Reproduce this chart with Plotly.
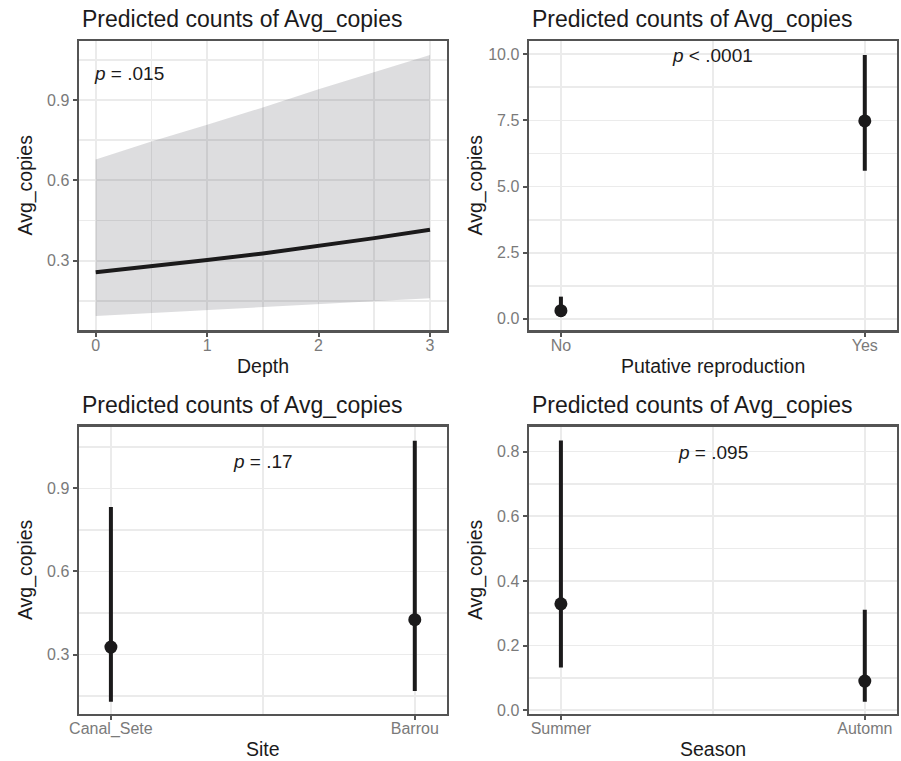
import plotly.graph_objects as go

# ---------------- data ----------------
title_text = "Predicted counts of Avg_copies"
y_label = "Avg_copies"

# Panel 1: Depth (continuous)
depth = [0, 0.5, 1, 1.5, 2, 2.5, 3]
depth_pred = [0.257, 0.279, 0.302, 0.327, 0.355, 0.384, 0.415]
depth_low = [0.093, 0.104, 0.115, 0.126, 0.137, 0.148, 0.160]
depth_high = [0.678, 0.745, 0.807, 0.872, 0.940, 1.003, 1.068]
depth_p = "<i>p</i> = .015"

# Panel 2: Putative reproduction
repro_cats = ["No", "Yes"]
repro_pred = [0.31, 7.48]
repro_low = [0.07, 5.60]
repro_high = [0.84, 9.97]
repro_p = "<i>p</i> < .0001"

# Panel 3: Site
site_cats = ["Canal_Sete", "Barrou"]
site_pred = [0.327, 0.426]
site_low = [0.129, 0.168]
site_high = [0.833, 1.072]
site_p = "<i>p</i> = .17"

# Panel 4: Season
season_cats = ["Summer", "Automn"]
season_pred = [0.329, 0.090]
season_low = [0.132, 0.026]
season_high = [0.834, 0.311]
season_p = "<i>p</i> = .095"

# ---------------- style ----------------
W, H = 901, 761
FONT = "Liberation Sans, Arial, Helvetica, sans-serif"
INK = "#1b1a1b"
BORDER = "#545454"
GRID = "#ebebeb"
TICKC = "#7a7a7a"

def px_x(p):
    return p / W

def px_y(p):
    return 1 - p / H

panels = {
    1: dict(x=(79, 446.7), y=(41, 330)),
    2: dict(x=(529, 896.7), y=(41, 330)),
    3: dict(x=(79, 446.7), y=(426.7, 713.5)),
    4: dict(x=(529, 896.7), y=(426.7, 713.5)),
}

fig = go.Figure()

# Panel 1: ribbon + line
fig.add_trace(go.Scatter(x=depth, y=depth_low, mode="lines", line=dict(width=0),
                         hoverinfo="skip", showlegend=False, xaxis="x", yaxis="y"))
fig.add_trace(go.Scatter(x=depth, y=depth_high, mode="lines", line=dict(width=0),
                         fill="tonexty", fillcolor="rgba(25,28,38,0.15)",
                         showlegend=False, xaxis="x", yaxis="y"))
fig.add_trace(go.Scatter(x=depth, y=depth_pred, mode="lines",
                         line=dict(color=INK, width=4), showlegend=False,
                         xaxis="x", yaxis="y"))

def point_panel(cats, pred, low, high, idx):
    xs = list(range(len(cats)))
    fig.add_trace(go.Scatter(
        x=xs, y=pred, mode="markers",
        marker=dict(color=INK, size=13),
        error_y=dict(type="data", symmetric=False,
                     array=[h - p for h, p in zip(high, pred)],
                     arrayminus=[p - l for p, l in zip(pred, low)],
                     color=INK, thickness=4, width=0),
        showlegend=False,
        xaxis="x" + str(idx), yaxis="y" + str(idx)))

point_panel(repro_cats, repro_pred, repro_low, repro_high, 2)
point_panel(site_cats, site_pred, site_low, site_high, 3)
point_panel(season_cats, season_pred, season_low, season_high, 4)

def axis_common():
    return dict(showline=True, mirror=True, linecolor=BORDER, linewidth=2.5,
                ticks="outside", ticklen=4, tickwidth=2, tickcolor=BORDER,
                tickfont=dict(family=FONT, size=16, color=TICKC),
                showgrid=True, gridcolor=GRID, gridwidth=1.8,
                zeroline=False, fixedrange=True, automargin=False)

layout = dict(
    width=W, height=H, margin=dict(l=0, r=0, t=0, b=0, pad=0),
    paper_bgcolor="white", plot_bgcolor="white", showlegend=False,
    font=dict(family=FONT, color=INK),
)

specs = {
    1: dict(xtv=[0, 1, 2, 3], xtt=["0", "1", "2", "3"], xmin=[0.5, 1.5, 2.5],
            xr=[-0.15, 3.15], xt="Depth",
            ytv=[0.3, 0.6, 0.9], ymin=[0.15, 0.45, 0.75, 1.05], yr=[0.041, 1.12]),
    2: dict(xtv=[0, 1], xtt=repro_cats, xmin=[0.5], xr=[-0.105, 1.105],
            xt="Putative reproduction",
            ytv=[0, 2.5, 5, 7.5, 10], ymin=[1.25, 3.75, 6.25, 8.75], yr=[-0.42, 10.5]),
    3: dict(xtv=[0, 1], xtt=site_cats, xmin=[0.5], xr=[-0.105, 1.105], xt="Site",
            ytv=[0.3, 0.6, 0.9], ymin=[0.15, 0.45, 0.75, 1.05], yr=[0.087, 1.123]),
    4: dict(xtv=[0, 1], xtt=season_cats, xmin=[0.5], xr=[-0.105, 1.105], xt="Season",
            ytv=[0, 0.2, 0.4, 0.6, 0.8], ymin=[0.1, 0.3, 0.5, 0.7], yr=[-0.0102, 0.877]),
}

annotations = []
for i in range(1, 5):
    s = specs[i]
    p = panels[i]
    sfx = "" if i == 1 else str(i)
    xa = axis_common()
    xa.update(domain=[px_x(p["x"][0]), px_x(p["x"][1])], range=s["xr"],
              tickmode="array", tickvals=s["xtv"], ticktext=s["xtt"],
              ticklabelstandoff=-5,
              minor=dict(tickvals=s["xmin"], showgrid=True, gridcolor=GRID,
                         gridwidth=1.8, ticks=""),
              anchor="y" + sfx)
    ya = axis_common()
    ya.update(domain=[px_y(p["y"][1]), px_y(p["y"][0])], range=s["yr"],
              tickmode="array", tickvals=s["ytv"], tickformat=".1f",
              minor=dict(tickvals=s["ymin"], showgrid=True, gridcolor=GRID,
                         gridwidth=1.8, ticks=""),
              anchor="x" + sfx)
    layout["xaxis" + sfx] = xa
    layout["yaxis" + sfx] = ya
    # panel title
    annotations.append(dict(text=title_text, xref="paper", yref="paper",
                            x=px_x(p["x"][0] + 1), y=px_y(p["y"][0] - 22),
                            xanchor="left", yanchor="middle", showarrow=False,
                            font=dict(family=FONT, size=23, color=INK)))
    # x-axis title
    annotations.append(dict(text=s["xt"], xref="paper", yref="paper",
                            x=px_x((p["x"][0] + p["x"][1]) / 2), y=px_y(p["y"][1] + 35.5),
                            xanchor="center", yanchor="middle", showarrow=False,
                            font=dict(family=FONT, size=19.5, color=INK)))
    # y-axis title
    annotations.append(dict(text=y_label, xref="paper", yref="paper",
                            x=px_x(p["x"][0] - 54), y=px_y((p["y"][0] + p["y"][1]) / 2),
                            xanchor="center", yanchor="middle", textangle=-90,
                            showarrow=False,
                            font=dict(family=FONT, size=19.5, color=INK)))

# p-value annotations
annotations.append(dict(text=depth_p, xref="x", yref="y", x=-0.03, y=1.0,
                        xanchor="left", yanchor="middle", showarrow=False,
                        font=dict(family=FONT, size=19, color=INK)))
annotations.append(dict(text=repro_p, xref="x2", yref="y2", x=0.5, y=9.97,
                        xanchor="center", yanchor="middle", showarrow=False,
                        font=dict(family=FONT, size=19, color=INK)))
annotations.append(dict(text=site_p, xref="x3", yref="y3", x=0.5, y=0.996,
                        xanchor="center", yanchor="middle", showarrow=False,
                        font=dict(family=FONT, size=19, color=INK)))
annotations.append(dict(text=season_p, xref="x4", yref="y4", x=0.5, y=0.797,
                        xanchor="center", yanchor="middle", showarrow=False,
                        font=dict(family=FONT, size=19, color=INK)))

layout["annotations"] = annotations
fig.update_layout(**layout)
fig.write_html("out.html",
               config={"displayModeBar": False, "staticPlot": True},
               post_script="document.body.style.margin='0';document.body.style.overflow='hidden';")
